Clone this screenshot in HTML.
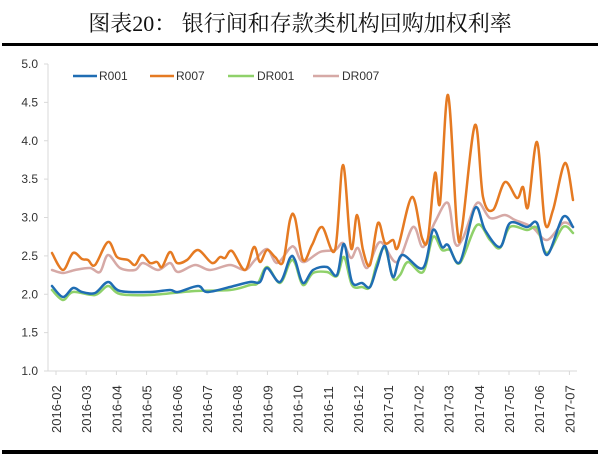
<!DOCTYPE html><html><head><meta charset="utf-8"><style>
body{margin:0;background:#fff;width:600px;height:459px;overflow:hidden}
svg{display:block}
text{font-family:"Liberation Sans",sans-serif}
</style></head><body>
<svg width="600" height="459" viewBox="0 0 600 459">
<text x="300" y="31" text-anchor="middle" font-size="22" style="font-family:'Liberation Serif','Noto Serif CJK SC',serif" fill="#111">图表20：  银行间和存款类机构回购加权利率</text>
<rect x="2" y="43" width="596" height="3" fill="#000"/>
<rect x="2" y="450" width="596" height="4" fill="#000"/>
<line x1="48" y1="64" x2="48" y2="371" stroke="#d9d9d9"/>
<line x1="48" y1="371" x2="577" y2="371" stroke="#d9d9d9"/>
<g id="yl" font-size="12" fill="#333" text-anchor="end"></g>
<g id="xl" font-size="13" fill="#333"></g>
<g id="series" fill="none" stroke-width="2.5" stroke-linejoin="round" stroke-linecap="round"></g>
<g font-size="12" fill="#333">
<line x1="73" y1="76" x2="97" y2="76" stroke="#1f6db3" stroke-width="2.5"/><text x="99" y="80">R001</text>
<line x1="150" y1="76" x2="174" y2="76" stroke="#e57a22" stroke-width="2.5"/><text x="176" y="80">R007</text>
<line x1="228" y1="76" x2="254" y2="76" stroke="#8fd16a" stroke-width="2.5"/><text x="257" y="80">DR001</text>
<line x1="313" y1="76" x2="339" y2="76" stroke="#d6a9a6" stroke-width="2.5"/><text x="342" y="80">DR007</text>
</g>
</svg>
<script>
var ns="http://www.w3.org/2000/svg";
function el(t,a,p,txt){var e=document.createElementNS(ns,t);for(var k in a)e.setAttribute(k,a[k]);if(txt)e.textContent=txt;document.getElementById(p).appendChild(e);return e;}
for(var i=0;i<=8;i++){var v=1+i*0.5,y=371-(v-1)*76.75;el("text",{x:38,y:y+4},"yl",v.toFixed(1));el("line",{x1:44,y1:y,x2:48,y2:y,stroke:"#d9d9d9"},"yl");}
var labs=["2016-02","2016-03","2016-04","2016-05","2016-06","2016-07","2016-08","2016-09","2016-10","2016-11","2016-12","2017-01","2017-02","2017-03","2017-04","2017-05","2017-06","2017-07"];
labs.forEach(function(l,i){var x=56+i*30.2;el("text",{x:0,y:0,transform:"translate("+(x+5)+",433) rotate(-90)"},"xl",l);el("line",{x1:x,y1:371,x2:x,y2:375,stroke:"#d9d9d9"},"yl");});
function path(pts){var d="M"+pts[0][0]+","+pts[0][1];for(var i=0;i<pts.length-1;i++){var p0=pts[i-1]||pts[i],p1=pts[i],p2=pts[i+1],p3=pts[i+2]||p2;var c1x=p1[0]+(p2[0]-p0[0])/6,c1y=p1[1]+(p2[1]-p0[1])/6,c2x=p2[0]-(p3[0]-p1[0])/6,c2y=p2[1]-(p3[1]-p1[1])/6;d+=" C"+c1x+","+c1y+" "+c2x+","+c2y+" "+p2[0]+","+p2[1];}return d;}
var pink=[[52,270],[63,273],[75,270],[90,268],[100,272],[108,255],[120,268],[135,270],[143,263],[158,270],[170,263],[178,272],[195,265],[210,270],[230,265],[245,270],[255,260],[267,249],[277,263],[290,248],[295,248],[303,262],[320,252],[335,250],[343,243],[351,258],[358,248],[367,268],[380,242],[397,262],[413,227],[423,247],[435,222],[448,203],[455,243],[463,238],[477,203],[490,218],[505,215],[515,220],[532,227],[547,240],[563,223],[573,227]];
var green=[[52,290],[63,300],[73,292],[95,295],[108,286],[120,294],[150,295],[195,291],[230,290],[250,285],[258,283],[267,267],[280,283],[290,262],[295,263],[303,285],[313,273],[327,272],[337,276],[344,257],[352,285],[362,287],[370,287],[377,263],[385,248],[393,278],[400,275],[408,262],[423,272],[433,237],[442,250],[450,250],[460,263],[477,225],[490,240],[500,248],[510,227],[527,230],[537,228],[547,253],[563,227],[573,233]];
var blue=[[52,286],[63,297],[73,288],[82,292],[95,293],[108,282],[120,291],[150,292],[170,290],[178,292],[198,286],[207,292],[230,287],[250,282],[260,282],[267,268],[280,282],[290,258],[295,260],[303,283],[313,270],[327,267],[337,275],[344,244],[352,282],[362,283],[370,287],[377,267],[385,246],[393,277],[402,255],[423,268],[433,230],[442,247],[448,245],[460,262],[475,208],[485,230],[500,247],[510,223],[527,227],[537,223],[547,255],[563,217],[573,227]];
var orange=[[52,253],[63,270],[73,253],[82,259],[88,260],[95,265],[108,242],[117,257],[128,260],[135,265],[142,255],[150,263],[157,262],[162,267],[170,252],[177,263],[187,260],[198,250],[212,263],[220,257],[225,258],[232,251],[245,270],[254,247],[260,262],[267,250],[275,257],[283,262],[290,220],[295,218],[303,260],[312,245],[322,227],[335,250],[343,165],[351,248],[357,215],[363,250],[370,265],[378,223],[385,243],[393,240],[398,247],[412,197],[422,238],[428,238],[435,173],[440,203],[448,95],[457,227],[462,228],[475,125],[483,197],[493,210],[505,182],[517,198],[523,187],[528,207],[537,142],[545,223],[553,210],[565,163],[573,200]];
[[pink,"#d6a9a6"],[green,"#8fd16a"],[blue,"#1f6db3"],[orange,"#e57a22"]].forEach(function(s){el("path",{d:path(s[0]),stroke:s[1]},"series");});
</script>
</body></html>
